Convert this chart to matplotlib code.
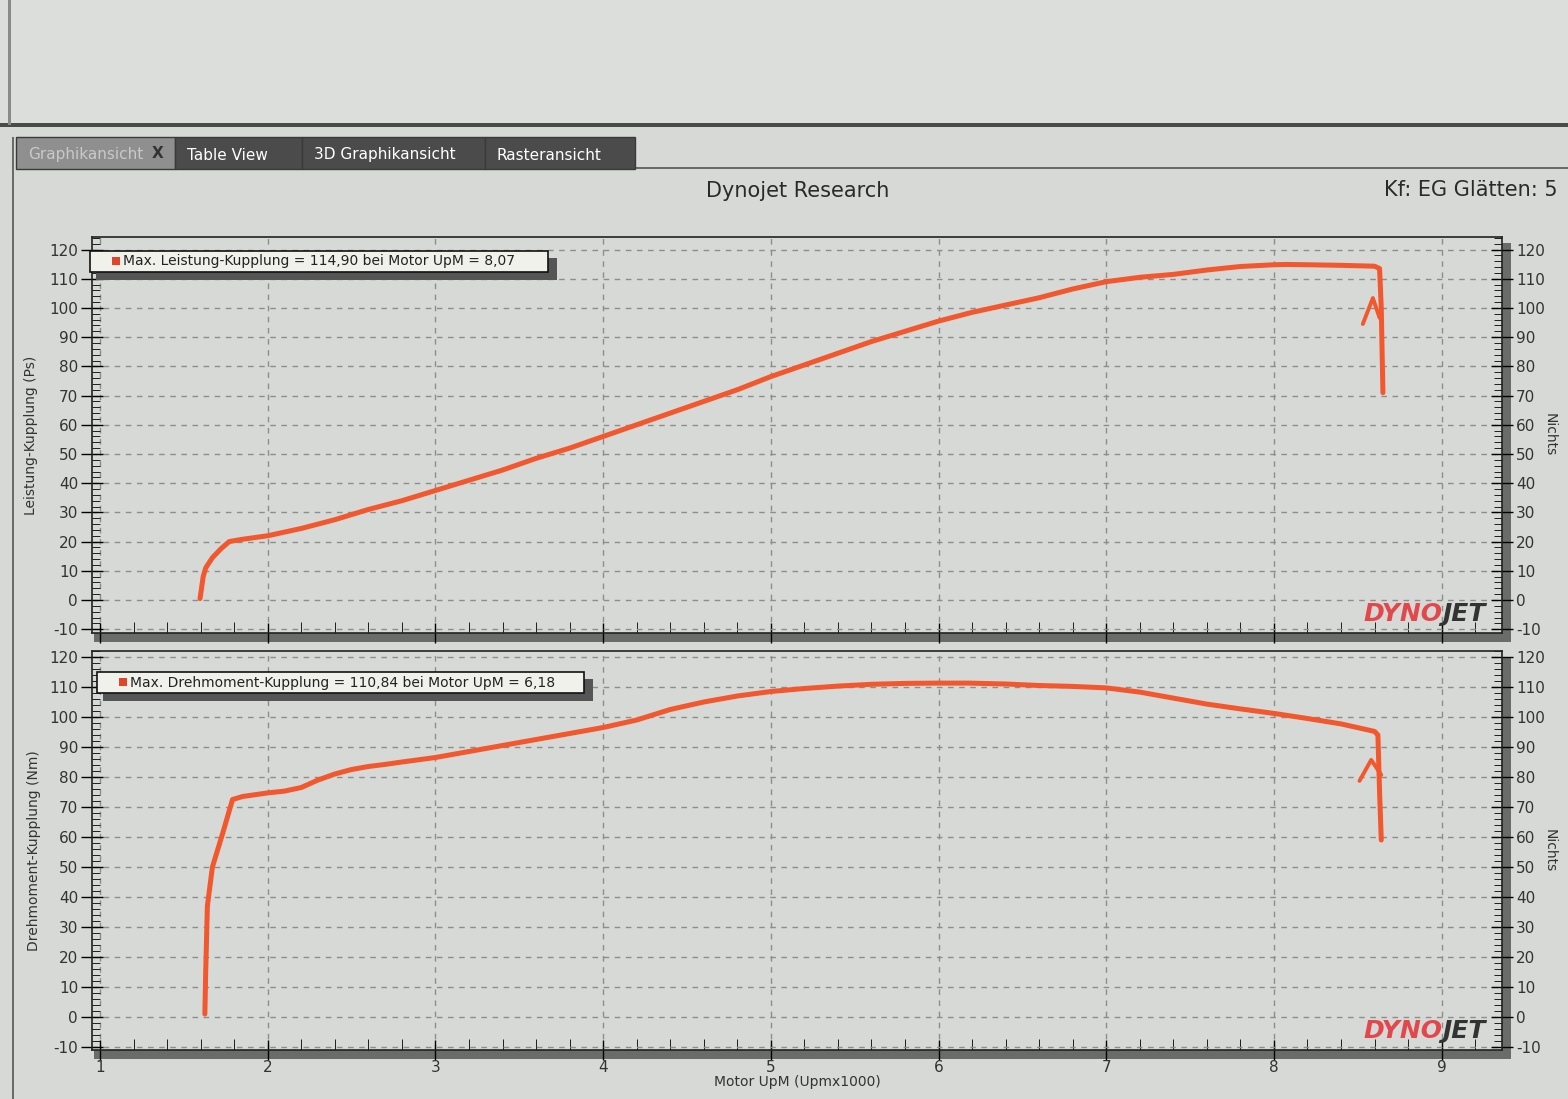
import numpy as np
import matplotlib.pyplot as plt
from matplotlib.patches import Rectangle
from matplotlib.ticker import MultipleLocator

plt.rcParams['axes.unicode_minus'] = False

# Bildgroesse in Pixel
W, H = 1568, 1099

# Leistung (PS) ueber Drehzahl (x1000)
rpm_power = [1.596, 1.605, 1.615, 1.63, 1.67, 1.72, 1.77, 1.85, 2.0, 2.2, 2.4,
             2.6, 2.8, 3.0, 3.2, 3.4, 3.6, 3.8, 4.0, 4.2, 4.4, 4.6, 4.8, 5.0,
             5.2, 5.4, 5.6, 5.8, 6.0, 6.2, 6.4, 6.6, 6.8, 7.0, 7.2, 7.4, 7.6,
             7.8, 8.0, 8.07, 8.2, 8.4, 8.6, 8.63, 8.64, 8.645, 8.65]
power_ps = [0.5, 4, 8, 11, 14.5, 17.5, 20, 20.8, 22, 24.5, 27.5,
            31, 34, 37.5, 41, 44.5, 48.5, 52, 56, 60, 64, 68, 72, 76.5,
            80.5, 84.5, 88.5, 92, 95.5, 98.5, 101, 103.5, 106.5, 109, 110.5,
            111.5, 113, 114.2, 114.8, 114.9, 114.8, 114.6, 114.3, 113.5,
            100, 85, 71]

# Drehmoment (Nm) ueber Drehzahl (x1000)
rpm_torque = [1.625, 1.63, 1.64, 1.67, 1.73, 1.79, 1.85, 2.0, 2.1, 2.2, 2.3,
              2.4, 2.5, 2.6, 2.7, 2.8, 3.0, 3.2, 3.4, 3.6, 3.8, 4.0, 4.2, 4.4,
              4.6, 4.8, 5.0, 5.2, 5.4, 5.6, 5.8, 6.0, 6.18, 6.4, 6.6, 6.8,
              7.0, 7.2, 7.4, 7.6, 7.8, 8.0, 8.2, 8.4, 8.6, 8.62, 8.63, 8.64]
torque_nm = [1, 15, 37, 50, 61, 72.5, 73.5, 74.7, 75.3, 76.5, 79,
             81, 82.5, 83.5, 84.2, 85, 86.5, 88.5, 90.5, 92.5, 94.5, 96.5,
             99, 102.5, 105, 107, 108.5, 109.5, 110.3, 110.9, 111.2, 111.3,
             111.3, 111, 110.5, 110.2, 109.7, 108.3, 106.3, 104.3, 102.7,
             101.2, 99.5, 97.7, 95.2, 94, 75, 59]

# handgemalte Pfeile
arrow_power_x = [8.53, 8.59, 8.63]
arrow_power_y = [94.5, 103.4, 96.6]
arrow_torque_x = [8.51, 8.58, 8.64]
arrow_torque_y = [78.7, 85.7, 80.7]

x_ticks = [1, 2, 3, 4, 5, 6, 7, 8, 9]
y_ticks = [-10, 0, 10, 20, 30, 40, 50, 60, 70, 80, 90, 100, 110, 120]

legend_top = "Max. Leistung-Kupplung = 114,90 bei Motor UpM = 8,07"
legend_bottom = "Max. Drehmoment-Kupplung = 110,84 bei Motor UpM = 6,18"
tabs = ["Graphikansicht", "Table View", "3D Graphikansicht", "Rasteransicht"]

BG = '#d6d9d6'
LINE = '#f2572d'
SHADOW = '#6a6c6a'


def box(l, t, r, b):
    # Pixelrechteck -> Figurkoordinaten
    return [l / W, 1 - b / H, (r - l) / W, (b - t) / H]


def rect(l, t, r, b, **kw):
    x, y, w, h = box(l, t, r, b)
    fig.add_artist(Rectangle((x, y), w, h, transform=fig.transFigure, **kw))


fig = plt.figure(figsize=(W / 100, H / 100), dpi=100)
fig.patch.set_facecolor(BG)

# obere Leiste des Fensters
rect(0, 0, W, 125, facecolor='#dcdedb', edgecolor='none', zorder=-5)
rect(0, 123, W, 127, facecolor='#4a4a4a', edgecolor='none', zorder=-4)
rect(8, 0, 11, 125, facecolor='#8a8a8a', edgecolor='none', zorder=-4)
rect(12, 137, 14, H, facecolor='#6a6a6a', edgecolor='none', zorder=-4)
rect(635, 167, W, 169, facecolor='#6a6a6a', edgecolor='none', zorder=-4)

# Reiter
tab_edges = [16, 175, 302, 485, 635]
for i, name in enumerate(tabs):
    fc = '#8f8f8f' if i == 0 else '#4b4b4b'
    tc = '#c9c9c9' if i == 0 else 'white'
    rect(tab_edges[i], 137, tab_edges[i + 1], 169, facecolor=fc,
         edgecolor='#3a3a3a', linewidth=1, zorder=-3)
    fig.text((tab_edges[i] + 12) / W, 1 - 155 / H, name, color=tc,
             fontsize=11, va='center', ha='left')
fig.text(158 / W, 1 - 153 / H, "X", color='#333333', fontsize=11,
         va='center', ha='center', fontweight='bold')

fig.text(798 / W, 1 - 191 / H, "Dynojet Research", fontsize=15,
         color='#2a2a2a', ha='center', va='center')
fig.text(1558 / W, 1 - 190 / H, "Kf: EG Glätten: 5", fontsize=15,
         color='#2a2a2a', ha='right', va='center')


def setup(ax, ylim, show_x):
    ax.set_facecolor(BG)
    ax.set_xlim(0.952, 9.36)
    ax.set_ylim(*ylim)
    ax.set_xticks(x_ticks)
    ax.xaxis.set_minor_locator(MultipleLocator(0.2))
    ax.set_yticks(y_ticks)
    ax.yaxis.set_minor_locator(MultipleLocator(2))
    ax.grid(True, which='major', color='#8c8e8c', linestyle=(0, (4, 4)),
            linewidth=1)
    ax.tick_params(axis='y', which='major', direction='inout', length=16,
                   width=1, left=True, right=True, labelleft=True,
                   labelright=True, labelsize=11, labelcolor='#333333',
                   pad=2)
    ax.tick_params(axis='y', which='minor', direction='in', length=6,
                   left=True, right=True)
    ax.tick_params(axis='x', which='major', direction='inout', length=14,
                   width=1, labelbottom=show_x, labelsize=11,
                   labelcolor='#333333', pad=0)
    ax.tick_params(axis='x', which='minor', direction='in', length=8)
    for s in ax.spines.values():
        s.set_color('#222222')
        s.set_linewidth(1.2)


ax1 = fig.add_axes(box(92, 237, 1502, 633))
setup(ax1, (-11.3, 124.3), False)
ax1.plot(rpm_power, power_ps, color=LINE, linewidth=3.6,
         solid_joinstyle='round', solid_capstyle='round')
ax1.plot(arrow_power_x, arrow_power_y, color=LINE, linewidth=2.8,
         solid_capstyle='round')
ax1.set_ylabel("Leistung-Kupplung (Ps)", fontsize=10, color='#333333',
               labelpad=8)
ax1.text(1.034, 0.5, "Nichts", transform=ax1.transAxes, rotation=-90,
         fontsize=10, color='#333333', va='center', ha='center')

ax2 = fig.add_axes(box(92, 651, 1502, 1050))
setup(ax2, (-11, 122), True)
ax2.plot(rpm_torque, torque_nm, color=LINE, linewidth=3.6,
         solid_joinstyle='round', solid_capstyle='round')
ax2.plot(arrow_torque_x, arrow_torque_y, color=LINE, linewidth=2.8,
         solid_capstyle='round')
ax2.set_ylabel("Drehmoment-Kupplung (Nm)", fontsize=10, color='#333333',
               labelpad=6)
ax2.text(1.034, 0.5, "Nichts", transform=ax2.transAxes, rotation=-90,
         fontsize=10, color='#333333', va='center', ha='center')
ax2.set_xlabel("Motor UpM (Upmx1000)", fontsize=10, color='#333333',
               labelpad=0)

# 3D-Schatten der Diagramme
for (l, t, r, b) in [(92, 237, 1502, 633), (92, 651, 1502, 1050)]:
    rect(l + 2, b, r + 9, b + 9, facecolor=SHADOW, edgecolor='none',
         zorder=-1)
    rect(r, t + 6, r + 9, b + 9, facecolor=SHADOW, edgecolor='none',
         zorder=-1)

# Legendenkaesten
for (l, t, r, b, txt) in [(90, 251, 548, 272, legend_top),
                          (97, 672, 584, 693, legend_bottom)]:
    rect(l + 6, t + 7, r + 9, b + 8, facecolor='#555555', edgecolor='none',
         zorder=4)
    rect(l, t, r, b, facecolor='#f1f1ec', edgecolor='#111111',
         linewidth=1.2, zorder=5)
    rect(l + 22, t + 6, l + 30, t + 14, facecolor='#e0452a',
         edgecolor='none', zorder=6)
    fig.text((l + 33) / W, 1 - (t + b) / 2 / H, txt, fontsize=10,
             color='#222222', va='center', ha='left', zorder=6)

# DYNOJET Logo
logo_x = (1442 - 92) / 1410
for ax in (ax1, ax2):
    ax.text(logo_x, 0.018, "JET", transform=ax.transAxes, fontsize=18,
            fontweight='heavy', style='italic', color='#333333',
            ha='left', va='bottom', zorder=3)
    ax.text(logo_x, 0.018, "DYNO", transform=ax.transAxes, fontsize=18,
            fontweight='heavy', style='italic', color='#e2474c',
            ha='right', va='bottom', zorder=3)

fig.savefig("out.png", dpi=100, facecolor=fig.get_facecolor())
